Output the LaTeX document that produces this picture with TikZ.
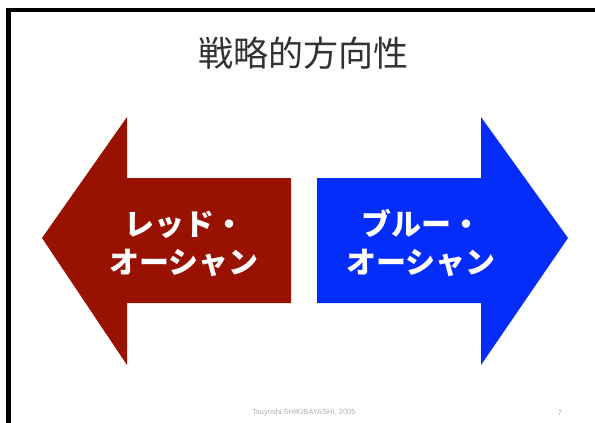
\documentclass[tikz,border=0pt]{standalone}
\usepackage{fontspec}
\setmainfont{Liberation Sans}
\newfontfamily\jp{Noto Sans CJK JP}
\definecolor{redocean}{RGB}{153,17,0}
\definecolor{blueocean}{RGB}{5,45,250}
\definecolor{titlegray}{RGB}{50,50,50}
\definecolor{footgray}{RGB}{175,175,175}
\begin{document}
\begin{tikzpicture}[x=1pt,y=-1pt,
  arrowtext/.style={text=white,font=\jp\bfseries\fontsize{30}{38}\selectfont,align=center,inner sep=0pt},
  foot/.style={text=footgray,font=\fontsize{7.5}{8}\selectfont,inner sep=0pt}]
\useasboundingbox (0,0) rectangle (595,423);
\fill[white] (0,0) rectangle (595,423);
% slide frame (top and left edges)
\fill[black] (6,8) rectangle (595,12);
\fill[black] (6,8) rectangle (11,423);
% title
\node[text=titlegray,font=\jp\fontsize{35}{38}\selectfont,inner sep=0pt] (title) at (303,53) {戦略的方向性};
% red arrow (left)
\fill[redocean] (42,238) -- (127,117) -- (127,178) -- (291,178) -- (291,303) -- (127,303) -- (127,365) -- cycle;
% blue arrow (right)
\fill[blueocean] (568,238) -- (481,117) -- (481,178) -- (317,178) -- (317,303) -- (481,303) -- (481,365) -- cycle;
\node[arrowtext] (red) at (184,244) {レッド・\\オーシャン};
\node[arrowtext] (blue) at (421,243) {ブルー・\\オーシャン};
% footer
\node[foot] (footer) at (304,413) {Tsuyoshi SHIKIBAYASHI, 2005};
\node[foot] (page) at (560,413) {7};
\end{tikzpicture}
\end{document}
